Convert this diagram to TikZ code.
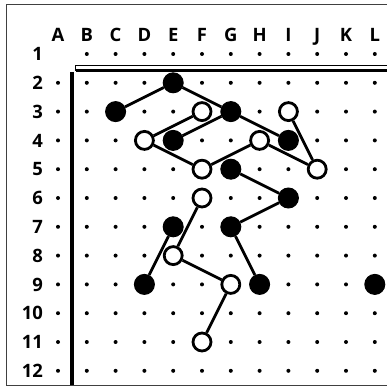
\documentclass[tikz,border=0pt]{standalone}
\usepackage{fontspec}
\setmainfont{Open Sans}
\usetikzlibrary{positioning}
\begin{document}
\begin{tikzpicture}[x=28.8bp,y=-28.8bp,
  lbl/.style={font=\bfseries\fontsize{18.5}{19}\selectfont,inner sep=0pt},
  bs/.style={circle,fill=black,draw=black,line width=1bp,minimum size=20bp,inner sep=0pt},
  ws/.style={circle,fill=white,draw=black,line width=2.8bp,minimum size=18bp,inner sep=0pt},
  ln/.style={line width=2.8bp}]
\useasboundingbox (-1.0139,-0.875) rectangle (12.4236,12.5278);
% frame and board edge
\draw[line width=0.9bp,black!75] (12.6,-0.736) -| (-0.806,12.493) -- (12.6,12.493);
\draw[line width=1bp] (12.6,1.399) -| (1.608,1.573);
\draw[line width=3bp] (1.608,1.573) -- (12.6,1.573);
\draw[line width=4bp] (1.486,1.625) -- (1.486,12.493);
% labels
\foreach \c [count=\i] in {A,...,L} \node[lbl,anchor=base] (c\c) at (\i,0.573) {\c};
\foreach \r in {1,...,12} \node[lbl,anchor=base east] (r\r) at (0.48,\r+0.232) {\r};
% grid points
\foreach \c [count=\i] in {A,...,L} \foreach \r in {1,...,12} \coordinate (p\c\r) at (\i,\r);
\foreach \r in {2,...,12} \fill (1,\r) circle (2bp);
\foreach \i in {2,...,12} \foreach \r in {1,...,12} \fill (\i,\r) circle (2bp);
% stones
\foreach \p in {E2,C3,G3,E4,I4,G5,I6,E7,G7,D9,H9,L9} \node[bs] (\p) at (p\p) {};
\foreach \p in {F3,I3,D4,H4,F5,J5,F6,E8,G9,F11} \node[ws] (\p) at (p\p) {};
\foreach \a/\b in {C3/E2,E2/G3,G3/I4,D4/F3,E4/G3,D4/F5,F5/H4,H4/J5,I3/J5,G5/I6,I6/G7,G7/H9,F6/E8,E7/D9,E8/G9,G9/F11}
  \draw[ln] (\a) -- (\b);
\end{tikzpicture}
\end{document}
